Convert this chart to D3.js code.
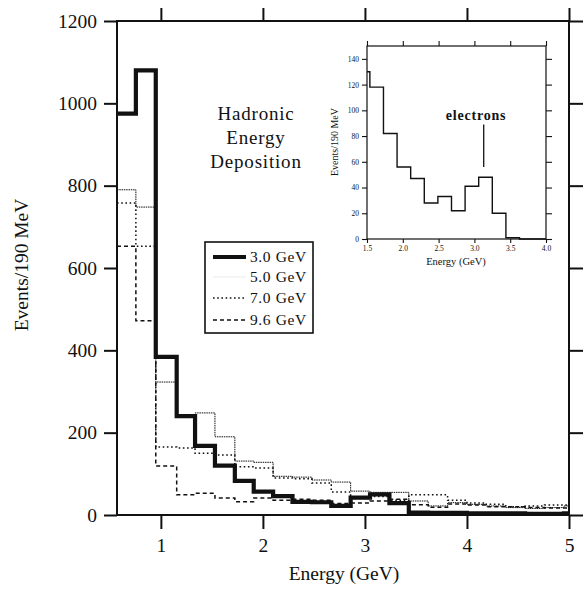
<!DOCTYPE html>
<html>
<head>
<meta charset="utf-8">
<script src="https://cdn.jsdelivr.net/npm/d3@7"></script>
<style>
  body { margin: 0; background: #fff; }
  text { font-family: "Liberation Serif", "Times New Roman", serif; fill: #111; }
</style>
</head>
<body>
<svg id="chart" width="588" height="589"></svg>
<script>
// Histogram bin edges (GeV), 190 MeV wide bins
const binEdges = [0.57, 0.755, 0.95, 1.155, 1.335, 1.53, 1.725, 1.91, 2.10, 2.29, 2.48, 2.67,
                  2.86, 3.05, 3.24, 3.43, 3.62, 3.81, 4.00, 4.19, 4.38, 4.57, 4.76, 4.95, 5.00];

// Events per 190 MeV bin for each beam energy
const events30 = [975, 1080, 384, 240, 168, 120, 83, 57, 46, 32, 31, 22, 42, 50, 29, 6, 5, 5, 4, 4, 4, 3, 3, 4];
const events50 = [790, 748, 323, 242, 248, 190, 131, 128, 94, 92, 85, 80, 58, 55, 55, 34, 22, 30, 26, 22, 18, 16, 18, 22];
const events70 = [758, 653, 165, 163, 150, 146, 117, 114, 90, 88, 78, 56, 40, 45, 36, 49, 49, 36, 29, 26, 20, 22, 24, 24];
const events96 = [653, 472, 119, 49, 53, 41, 32, 41, 36, 38, 36, 28, 29, 34, 38, 25, 19, 27, 24, 20, 20, 18, 17, 17];

const beamLabels = ["3.0 GeV", "5.0 GeV", "7.0 GeV", "9.6 GeV"];

const xTicks = [1, 2, 3, 4, 5];
const yTicks = [0, 200, 400, 600, 800, 1000, 1200];

// Inset: 3 GeV beam, showing the electron peak
const insetEdges = [1.50, 1.54, 1.73, 1.92, 2.11, 2.30, 2.49, 2.68, 2.87, 3.06, 3.25, 3.44, 3.63, 4.00];
const insetCounts = [130, 118, 82, 56, 47, 28, 33, 22, 41, 48, 20, 1, 0];
const insetXTicks = [1.5, 2.0, 2.5, 3.0, 3.5, 4.0];
const insetYTicks = [0, 20, 40, 60, 80, 100, 120, 140];
const electronMarker = { energy: 3.13, low: 56, high: 89 };

const svg = d3.select("#chart");
svg.append("rect").attr("width", 588).attr("height", 589).attr("fill", "#fff");

// ---------- main panel ----------
const x = d3.scaleLinear().domain([0.57, 5]).range([117, 569]);
const y = d3.scaleLinear().domain([0, 1200]).range([515, 21]);

function stepPoints(edges, values) {
  const pts = values.map((v, i) => [edges[i], v]);
  pts.push([edges[values.length], values[values.length - 1]]);
  return pts;
}

const mainLine = d3.line().x(d => x(d[0])).y(d => y(d[1])).curve(d3.curveStepAfter);

const series = [
  { values: events96, width: 1.5, dash: "4,3" },
  { values: events70, width: 1.5, dash: "1.6,2.6" },
  { values: events50, width: 1.0, dash: "1.5,0.8" },
  { values: events30, width: 4.2, dash: null }
];

series.forEach(s => {
  svg.append("path")
    .datum(stepPoints(binEdges, s.values))
    .attr("d", mainLine)
    .attr("fill", "none")
    .attr("stroke", "#111")
    .attr("stroke-width", s.width)
    .attr("stroke-dasharray", s.dash)
    .attr("stroke-linejoin", "miter");
});

function styleAxis(g, w) {
  g.select(".domain").remove();
  g.selectAll(".tick line").attr("stroke", "#111").attr("stroke-width", w);
}

const axL = svg.append("g").attr("transform", `translate(${x(0.57)},0)`)
  .call(d3.axisLeft(y).tickValues(yTicks).tickSize(13).tickPadding(7).tickFormat(d3.format("d")));
axL.call(g => styleAxis(g, 2));
axL.selectAll("text").attr("font-size", 19.5);

const axR = svg.append("g").attr("transform", `translate(${x(5)},0)`)
  .call(d3.axisRight(y).tickValues(yTicks).tickSize(14).tickFormat(""));
axR.call(g => styleAxis(g, 2));

const axB = svg.append("g").attr("transform", `translate(0,${y(0)})`)
  .call(d3.axisBottom(x).tickValues(xTicks).tickSize(14).tickPadding(9).tickFormat(d3.format("d")));
axB.call(g => styleAxis(g, 2));
axB.selectAll("text").attr("font-size", 19.5);

const axT = svg.append("g").attr("transform", `translate(0,${y(1200)})`)
  .call(d3.axisTop(x).tickValues(xTicks).tickSize(13).tickFormat(""));
axT.call(g => styleAxis(g, 2));

svg.append("rect")
  .attr("x", x(0.57)).attr("y", y(1200))
  .attr("width", x(5) - x(0.57)).attr("height", y(0) - y(1200))
  .attr("fill", "none").attr("stroke", "#111").attr("stroke-width", 2);

svg.append("text")
  .attr("x", 344).attr("y", 580)
  .attr("text-anchor", "middle").attr("font-size", 19.5)
  .text("Energy (GeV)");

svg.append("text")
  .attr("transform", "translate(28,265) rotate(-90)")
  .attr("text-anchor", "middle").attr("font-size", 19.5)
  .text("Events/190 MeV");

// Title block
const titleLines = ["Hadronic", "Energy", "Deposition"];
svg.append("g").selectAll("text").data(titleLines).join("text")
  .attr("x", 256).attr("y", (d, i) => 120 + i * 24)
  .attr("text-anchor", "middle").attr("font-size", 19).attr("letter-spacing", 0.8)
  .text(d => d);

// Legend
const legend = svg.append("g");
legend.append("rect")
  .attr("x", 205).attr("y", 242).attr("width", 108).attr("height", 91)
  .attr("fill", "#fff").attr("stroke", "#111").attr("stroke-width", 1.6);
const legendStyles = [
  { width: 4.2, dash: null, color: "#111" },
  { width: 0.6, dash: null, color: "#ddd" },
  { width: 1.5, dash: "1.6,2.6", color: "#111" },
  { width: 1.5, dash: "4,3", color: "#111" }
];
const rowY = [257, 277, 298, 320];
beamLabels.forEach((lab, i) => {
  legend.append("line")
    .attr("x1", 213).attr("x2", 246).attr("y1", rowY[i]).attr("y2", rowY[i])
    .attr("stroke", legendStyles[i].color)
    .attr("stroke-width", legendStyles[i].width)
    .attr("stroke-dasharray", legendStyles[i].dash);
  legend.append("text")
    .attr("x", 250).attr("y", rowY[i] + 5)
    .attr("font-size", 15.5).attr("letter-spacing", 0.6)
    .text(lab);
});

// ---------- inset panel ----------
const ix = d3.scaleLinear().domain([1.5, 4.0]).range([367, 546]);
const iy = d3.scaleLinear().domain([0, 150]).range([239, 46]);

const insetLine = d3.line().x(d => ix(d[0])).y(d => iy(d[1])).curve(d3.curveStepAfter);
svg.append("path")
  .datum(stepPoints(insetEdges, insetCounts))
  .attr("d", insetLine)
  .attr("fill", "none").attr("stroke", "#111").attr("stroke-width", 1.4);

const iL = svg.append("g").attr("transform", `translate(${ix(1.5)},0)`)
  .call(d3.axisLeft(iy).tickValues(insetYTicks).tickSize(5).tickPadding(3).tickFormat(d3.format("d")));
iL.call(g => styleAxis(g, 1.1));
iL.selectAll("text").attr("font-size", 7.5);

const iR = svg.append("g").attr("transform", `translate(${ix(4.0)},0)`)
  .call(d3.axisRight(iy).tickValues(insetYTicks).tickSize(6).tickFormat(""));
iR.call(g => styleAxis(g, 1.1));

const iB = svg.append("g").attr("transform", `translate(0,${iy(0)})`)
  .call(d3.axisBottom(ix).tickValues(insetXTicks).tickSize(4).tickPadding(3).tickFormat(d3.format(".1f")));
iB.call(g => styleAxis(g, 1.1));
iB.selectAll("text").attr("font-size", 7.5);

const iT = svg.append("g").attr("transform", `translate(0,${iy(150)})`)
  .call(d3.axisTop(ix).tickValues(insetXTicks).tickSize(5).tickFormat(""));
iT.call(g => styleAxis(g, 1.1));

svg.append("rect")
  .attr("x", ix(1.5)).attr("y", iy(150))
  .attr("width", ix(4.0) - ix(1.5)).attr("height", iy(0) - iy(150))
  .attr("fill", "none").attr("stroke", "#111").attr("stroke-width", 1.2);

svg.append("text")
  .attr("x", 456).attr("y", 265)
  .attr("text-anchor", "middle").attr("font-size", 10.5)
  .text("Energy (GeV)");

svg.append("text")
  .attr("transform", "translate(338,142) rotate(-90)")
  .attr("text-anchor", "middle").attr("font-size", 10)
  .text("Events/190 MeV");

svg.append("text")
  .attr("x", 476).attr("y", 120)
  .attr("text-anchor", "middle").attr("font-size", 14).attr("font-weight", "bold")
  .attr("letter-spacing", 0.8)
  .text("electrons");

svg.append("line")
  .attr("x1", ix(electronMarker.energy)).attr("x2", ix(electronMarker.energy))
  .attr("y1", iy(electronMarker.high)).attr("y2", iy(electronMarker.low))
  .attr("stroke", "#111").attr("stroke-width", 1.3);
</script>
</body>
</html>
